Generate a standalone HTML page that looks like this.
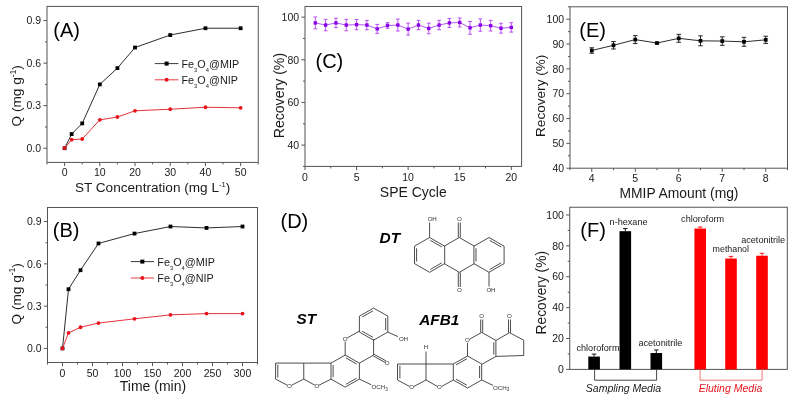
<!DOCTYPE html>
<html><head><meta charset="utf-8"><style>
html,body{margin:0;padding:0;background:#fff;}
svg{display:block;font-family:"Liberation Sans",sans-serif;-webkit-font-smoothing:antialiased;will-change:transform;filter:blur(0.3px);}
</style></head><body>
<svg width="794" height="400" viewBox="0 0 794 400">
<rect width="794" height="400" fill="#fff"/>
<rect x="47" y="6.4" width="211.25" height="156" fill="none" stroke="#555" stroke-width="1.0"/>
<line x1="43.4" y1="148.22" x2="47" y2="148.22" stroke="#555" stroke-width="1.0"/>
<text x="41.1" y="151.92" text-anchor="end" font-size="10.5" fill="#1a1a1a">0.0</text>
<line x1="43.4" y1="105.67" x2="47" y2="105.67" stroke="#555" stroke-width="1.0"/>
<text x="41.1" y="109.37" text-anchor="end" font-size="10.5" fill="#1a1a1a">0.3</text>
<line x1="43.4" y1="63.13" x2="47" y2="63.13" stroke="#555" stroke-width="1.0"/>
<text x="41.1" y="66.83" text-anchor="end" font-size="10.5" fill="#1a1a1a">0.6</text>
<line x1="43.4" y1="20.58" x2="47" y2="20.58" stroke="#555" stroke-width="1.0"/>
<text x="41.1" y="24.28" text-anchor="end" font-size="10.5" fill="#1a1a1a">0.9</text>
<line x1="45" y1="126.95" x2="47" y2="126.95" stroke="#555" stroke-width="1.0"/>
<line x1="45" y1="84.4" x2="47" y2="84.4" stroke="#555" stroke-width="1.0"/>
<line x1="45" y1="41.85" x2="47" y2="41.85" stroke="#555" stroke-width="1.0"/>
<line x1="64.6" y1="162.4" x2="64.6" y2="166" stroke="#555" stroke-width="1.0"/>
<text x="64.6" y="176.1" text-anchor="middle" font-size="10.5" fill="#1a1a1a">0</text>
<line x1="99.81" y1="162.4" x2="99.81" y2="166" stroke="#555" stroke-width="1.0"/>
<text x="99.81" y="176.1" text-anchor="middle" font-size="10.5" fill="#1a1a1a">10</text>
<line x1="135.02" y1="162.4" x2="135.02" y2="166" stroke="#555" stroke-width="1.0"/>
<text x="135.02" y="176.1" text-anchor="middle" font-size="10.5" fill="#1a1a1a">20</text>
<line x1="170.23" y1="162.4" x2="170.23" y2="166" stroke="#555" stroke-width="1.0"/>
<text x="170.23" y="176.1" text-anchor="middle" font-size="10.5" fill="#1a1a1a">30</text>
<line x1="205.44" y1="162.4" x2="205.44" y2="166" stroke="#555" stroke-width="1.0"/>
<text x="205.44" y="176.1" text-anchor="middle" font-size="10.5" fill="#1a1a1a">40</text>
<line x1="240.65" y1="162.4" x2="240.65" y2="166" stroke="#555" stroke-width="1.0"/>
<text x="240.65" y="176.1" text-anchor="middle" font-size="10.5" fill="#1a1a1a">50</text>
<line x1="47" y1="162.4" x2="47" y2="164.4" stroke="#555" stroke-width="1.0"/>
<line x1="82.21" y1="162.4" x2="82.21" y2="164.4" stroke="#555" stroke-width="1.0"/>
<line x1="117.42" y1="162.4" x2="117.42" y2="164.4" stroke="#555" stroke-width="1.0"/>
<line x1="152.62" y1="162.4" x2="152.62" y2="164.4" stroke="#555" stroke-width="1.0"/>
<line x1="187.83" y1="162.4" x2="187.83" y2="164.4" stroke="#555" stroke-width="1.0"/>
<line x1="223.04" y1="162.4" x2="223.04" y2="164.4" stroke="#555" stroke-width="1.0"/>
<line x1="258.25" y1="162.4" x2="258.25" y2="164.4" stroke="#555" stroke-width="1.0"/>
<text transform="translate(21.3,95.8) rotate(-90)" text-anchor="middle" font-size="13.6" fill="#1a1a1a">Q (mg g<tspan font-size="8.5" dy="-5.5">-1</tspan><tspan dy="5.5">)</tspan></text>
<text x="152.6" y="192.3" text-anchor="middle" font-size="13.6" fill="#1a1a1a">ST Concentration (mg L<tspan font-size="7.6" dy="-5.2">-1</tspan><tspan dy="5.2">)</tspan></text>
<text x="53.3" y="36.6" font-size="20" fill="#000">(A)</text>
<polyline points="64.6,148.22 71.65,134.04 82.21,123.4 99.81,84.4 117.42,68.09 135.02,47.53 170.23,35.05 205.44,28.24 240.65,28.24" fill="none" stroke="#222" stroke-width="0.95"/>
<rect x="62.7" y="146.32" width="3.8" height="3.8" fill="#000"/>
<rect x="69.75" y="132.14" width="3.8" height="3.8" fill="#000"/>
<rect x="80.31" y="121.5" width="3.8" height="3.8" fill="#000"/>
<rect x="97.91" y="82.5" width="3.8" height="3.8" fill="#000"/>
<rect x="115.52" y="66.19" width="3.8" height="3.8" fill="#000"/>
<rect x="133.12" y="45.63" width="3.8" height="3.8" fill="#000"/>
<rect x="168.33" y="33.15" width="3.8" height="3.8" fill="#000"/>
<rect x="203.54" y="26.34" width="3.8" height="3.8" fill="#000"/>
<rect x="238.75" y="26.34" width="3.8" height="3.8" fill="#000"/>
<polyline points="64.6,148.22 71.65,139.71 82.21,139 99.81,119.85 117.42,117.02 135.02,110.78 170.23,109.22 205.44,107.23 240.65,107.8" fill="none" stroke="#e2262c" stroke-width="0.95"/>
<circle cx="64.6" cy="148.22" r="1.9" fill="#e8141b"/>
<circle cx="71.65" cy="139.71" r="1.9" fill="#e8141b"/>
<circle cx="82.21" cy="139" r="1.9" fill="#e8141b"/>
<circle cx="99.81" cy="119.85" r="1.9" fill="#e8141b"/>
<circle cx="117.42" cy="117.02" r="1.9" fill="#e8141b"/>
<circle cx="135.02" cy="110.78" r="1.9" fill="#e8141b"/>
<circle cx="170.23" cy="109.22" r="1.9" fill="#e8141b"/>
<circle cx="205.44" cy="107.23" r="1.9" fill="#e8141b"/>
<circle cx="240.65" cy="107.8" r="1.9" fill="#e8141b"/>
<line x1="154.8" y1="63.6" x2="178.4" y2="63.6" stroke="#222" stroke-width="0.9"/>
<rect x="164.6" y="61.6" width="4" height="4" fill="#000"/>
<text x="181.5" y="68" font-size="10.8" fill="#1a1a1a">Fe<tspan font-size="5.8" dy="3.6">3</tspan><tspan dy="-3.6">O</tspan><tspan font-size="5.8" dy="3.6">4</tspan><tspan dy="-3.6">@MIP</tspan></text>
<line x1="154.8" y1="79.8" x2="178.4" y2="79.8" stroke="#e2262c" stroke-width="0.9"/>
<circle cx="166.6" cy="79.8" r="2" fill="#e8141b"/>
<text x="181.5" y="84.2" font-size="10.8" fill="#1a1a1a">Fe<tspan font-size="5.8" dy="3.6">3</tspan><tspan dy="-3.6">O</tspan><tspan font-size="5.8" dy="3.6">4</tspan><tspan dy="-3.6">@NIP</tspan></text>
<rect x="47.5" y="207.5" width="210" height="155" fill="none" stroke="#555" stroke-width="1.0"/>
<line x1="43.9" y1="348.41" x2="47.5" y2="348.41" stroke="#555" stroke-width="1.0"/>
<text x="41.6" y="352.11" text-anchor="end" font-size="10.5" fill="#1a1a1a">0.0</text>
<line x1="43.9" y1="306.14" x2="47.5" y2="306.14" stroke="#555" stroke-width="1.0"/>
<text x="41.6" y="309.84" text-anchor="end" font-size="10.5" fill="#1a1a1a">0.3</text>
<line x1="43.9" y1="263.86" x2="47.5" y2="263.86" stroke="#555" stroke-width="1.0"/>
<text x="41.6" y="267.56" text-anchor="end" font-size="10.5" fill="#1a1a1a">0.6</text>
<line x1="43.9" y1="221.59" x2="47.5" y2="221.59" stroke="#555" stroke-width="1.0"/>
<text x="41.6" y="225.29" text-anchor="end" font-size="10.5" fill="#1a1a1a">0.9</text>
<line x1="45.5" y1="327.27" x2="47.5" y2="327.27" stroke="#555" stroke-width="1.0"/>
<line x1="45.5" y1="285" x2="47.5" y2="285" stroke="#555" stroke-width="1.0"/>
<line x1="45.5" y1="242.73" x2="47.5" y2="242.73" stroke="#555" stroke-width="1.0"/>
<line x1="62.5" y1="362.5" x2="62.5" y2="366.1" stroke="#555" stroke-width="1.0"/>
<text x="62.5" y="376.8" text-anchor="middle" font-size="10.5" fill="#1a1a1a">0</text>
<line x1="92.5" y1="362.5" x2="92.5" y2="366.1" stroke="#555" stroke-width="1.0"/>
<text x="92.5" y="376.8" text-anchor="middle" font-size="10.5" fill="#1a1a1a">50</text>
<line x1="122.5" y1="362.5" x2="122.5" y2="366.1" stroke="#555" stroke-width="1.0"/>
<text x="122.5" y="376.8" text-anchor="middle" font-size="10.5" fill="#1a1a1a">100</text>
<line x1="152.5" y1="362.5" x2="152.5" y2="366.1" stroke="#555" stroke-width="1.0"/>
<text x="152.5" y="376.8" text-anchor="middle" font-size="10.5" fill="#1a1a1a">150</text>
<line x1="182.5" y1="362.5" x2="182.5" y2="366.1" stroke="#555" stroke-width="1.0"/>
<text x="182.5" y="376.8" text-anchor="middle" font-size="10.5" fill="#1a1a1a">200</text>
<line x1="212.5" y1="362.5" x2="212.5" y2="366.1" stroke="#555" stroke-width="1.0"/>
<text x="212.5" y="376.8" text-anchor="middle" font-size="10.5" fill="#1a1a1a">250</text>
<line x1="242.5" y1="362.5" x2="242.5" y2="366.1" stroke="#555" stroke-width="1.0"/>
<text x="242.5" y="376.8" text-anchor="middle" font-size="10.5" fill="#1a1a1a">300</text>
<line x1="47.5" y1="362.5" x2="47.5" y2="364.5" stroke="#555" stroke-width="1.0"/>
<line x1="77.5" y1="362.5" x2="77.5" y2="364.5" stroke="#555" stroke-width="1.0"/>
<line x1="107.5" y1="362.5" x2="107.5" y2="364.5" stroke="#555" stroke-width="1.0"/>
<line x1="137.5" y1="362.5" x2="137.5" y2="364.5" stroke="#555" stroke-width="1.0"/>
<line x1="167.5" y1="362.5" x2="167.5" y2="364.5" stroke="#555" stroke-width="1.0"/>
<line x1="197.5" y1="362.5" x2="197.5" y2="364.5" stroke="#555" stroke-width="1.0"/>
<line x1="227.5" y1="362.5" x2="227.5" y2="364.5" stroke="#555" stroke-width="1.0"/>
<line x1="257.5" y1="362.5" x2="257.5" y2="364.5" stroke="#555" stroke-width="1.0"/>
<text transform="translate(20.6,293.8) rotate(-90)" text-anchor="middle" font-size="13.6" fill="#1a1a1a">Q (mg g<tspan font-size="8.5" dy="-5.5">-1</tspan><tspan dy="5.5">)</tspan></text>
<text x="153" y="391.4" text-anchor="middle" font-size="14" fill="#1a1a1a">Time (min)</text>
<text x="52.8" y="237" font-size="20" fill="#000">(B)</text>
<polyline points="62.5,348.41 68.5,289.23 80.5,270.2 98.5,243.43 134.5,233.57 170.5,226.52 206.5,227.93 242.5,226.52" fill="none" stroke="#222" stroke-width="0.95"/>
<rect x="60.6" y="346.51" width="3.8" height="3.8" fill="#000"/>
<rect x="66.6" y="287.33" width="3.8" height="3.8" fill="#000"/>
<rect x="78.6" y="268.3" width="3.8" height="3.8" fill="#000"/>
<rect x="96.6" y="241.53" width="3.8" height="3.8" fill="#000"/>
<rect x="132.6" y="231.67" width="3.8" height="3.8" fill="#000"/>
<rect x="168.6" y="224.62" width="3.8" height="3.8" fill="#000"/>
<rect x="204.6" y="226.03" width="3.8" height="3.8" fill="#000"/>
<rect x="240.6" y="224.62" width="3.8" height="3.8" fill="#000"/>
<polyline points="62.5,348.41 68.5,332.91 80.5,327.27 98.5,323.05 134.5,318.82 170.5,314.87 206.5,313.6 242.5,313.6" fill="none" stroke="#e2262c" stroke-width="0.95"/>
<circle cx="62.5" cy="348.41" r="1.9" fill="#e8141b"/>
<circle cx="68.5" cy="332.91" r="1.9" fill="#e8141b"/>
<circle cx="80.5" cy="327.27" r="1.9" fill="#e8141b"/>
<circle cx="98.5" cy="323.05" r="1.9" fill="#e8141b"/>
<circle cx="134.5" cy="318.82" r="1.9" fill="#e8141b"/>
<circle cx="170.5" cy="314.87" r="1.9" fill="#e8141b"/>
<circle cx="206.5" cy="313.6" r="1.9" fill="#e8141b"/>
<circle cx="242.5" cy="313.6" r="1.9" fill="#e8141b"/>
<line x1="130.7" y1="261.6" x2="154" y2="261.6" stroke="#222" stroke-width="0.9"/>
<rect x="140.35" y="259.6" width="4" height="4" fill="#000"/>
<text x="157.3" y="266" font-size="10.8" fill="#1a1a1a">Fe<tspan font-size="5.8" dy="3.6">3</tspan><tspan dy="-3.6">O</tspan><tspan font-size="5.8" dy="3.6">4</tspan><tspan dy="-3.6">@MIP</tspan></text>
<line x1="130.7" y1="278" x2="154" y2="278" stroke="#e2262c" stroke-width="0.9"/>
<circle cx="142.35" cy="278" r="2" fill="#e8141b"/>
<text x="157.3" y="282.4" font-size="10.8" fill="#1a1a1a">Fe<tspan font-size="5.8" dy="3.6">3</tspan><tspan dy="-3.6">O</tspan><tspan font-size="5.8" dy="3.6">4</tspan><tspan dy="-3.6">@NIP</tspan></text>
<rect x="305" y="6.5" width="216.6" height="159.9" fill="none" stroke="#555" stroke-width="1.0"/>
<line x1="301.4" y1="145.08" x2="305" y2="145.08" stroke="#555" stroke-width="1.0"/>
<text x="299.1" y="148.78" text-anchor="end" font-size="10.5" fill="#1a1a1a">40</text>
<line x1="301.4" y1="102.44" x2="305" y2="102.44" stroke="#555" stroke-width="1.0"/>
<text x="299.1" y="106.14" text-anchor="end" font-size="10.5" fill="#1a1a1a">60</text>
<line x1="301.4" y1="59.8" x2="305" y2="59.8" stroke="#555" stroke-width="1.0"/>
<text x="299.1" y="63.5" text-anchor="end" font-size="10.5" fill="#1a1a1a">80</text>
<line x1="301.4" y1="17.16" x2="305" y2="17.16" stroke="#555" stroke-width="1.0"/>
<text x="299.1" y="20.86" text-anchor="end" font-size="10.5" fill="#1a1a1a">100</text>
<line x1="303" y1="166.4" x2="305" y2="166.4" stroke="#555" stroke-width="1.0"/>
<line x1="303" y1="123.76" x2="305" y2="123.76" stroke="#555" stroke-width="1.0"/>
<line x1="303" y1="81.12" x2="305" y2="81.12" stroke="#555" stroke-width="1.0"/>
<line x1="303" y1="38.48" x2="305" y2="38.48" stroke="#555" stroke-width="1.0"/>
<line x1="305" y1="166.4" x2="305" y2="170" stroke="#555" stroke-width="1.0"/>
<text x="305" y="180.7" text-anchor="middle" font-size="10.5" fill="#1a1a1a">0</text>
<line x1="356.57" y1="166.4" x2="356.57" y2="170" stroke="#555" stroke-width="1.0"/>
<text x="356.57" y="180.7" text-anchor="middle" font-size="10.5" fill="#1a1a1a">5</text>
<line x1="408.14" y1="166.4" x2="408.14" y2="170" stroke="#555" stroke-width="1.0"/>
<text x="408.14" y="180.7" text-anchor="middle" font-size="10.5" fill="#1a1a1a">10</text>
<line x1="459.71" y1="166.4" x2="459.71" y2="170" stroke="#555" stroke-width="1.0"/>
<text x="459.71" y="180.7" text-anchor="middle" font-size="10.5" fill="#1a1a1a">15</text>
<line x1="511.29" y1="166.4" x2="511.29" y2="170" stroke="#555" stroke-width="1.0"/>
<text x="511.29" y="180.7" text-anchor="middle" font-size="10.5" fill="#1a1a1a">20</text>
<line x1="330.79" y1="166.4" x2="330.79" y2="168.4" stroke="#555" stroke-width="1.0"/>
<line x1="382.36" y1="166.4" x2="382.36" y2="168.4" stroke="#555" stroke-width="1.0"/>
<line x1="433.93" y1="166.4" x2="433.93" y2="168.4" stroke="#555" stroke-width="1.0"/>
<line x1="485.5" y1="166.4" x2="485.5" y2="168.4" stroke="#555" stroke-width="1.0"/>
<text transform="translate(284,95.6) rotate(-90)" text-anchor="middle" font-size="14.1" fill="#1a1a1a">Recovery (%)</text>
<text x="413.3" y="196.9" text-anchor="middle" font-size="14" fill="#1a1a1a">SPE Cycle</text>
<text x="315.5" y="67.7" font-size="20" fill="#000">(C)</text>
<path d="M315.31,16.95V28.89M313.41,16.95H317.21M313.41,28.89H317.21" stroke="#b040f0" stroke-width="0.9" fill="none"/>
<path d="M325.63,19.29V30.8M323.73,19.29H327.53M323.73,30.8H327.53" stroke="#b040f0" stroke-width="0.9" fill="none"/>
<path d="M335.94,18.23V27.61M334.04,18.23H337.84M334.04,27.61H337.84" stroke="#b040f0" stroke-width="0.9" fill="none"/>
<path d="M346.26,19.29V30.8M344.36,19.29H348.16M344.36,30.8H348.16" stroke="#b040f0" stroke-width="0.9" fill="none"/>
<path d="M356.57,19.51V29.74M354.67,19.51H358.47M354.67,29.74H358.47" stroke="#b040f0" stroke-width="0.9" fill="none"/>
<path d="M366.89,20.36V29.74M364.99,20.36H368.79M364.99,29.74H368.79" stroke="#b040f0" stroke-width="0.9" fill="none"/>
<path d="M377.2,24.41V33.36M375.3,24.41H379.1M375.3,33.36H379.1" stroke="#b040f0" stroke-width="0.9" fill="none"/>
<path d="M387.51,22.7V28.25M385.61,22.7H389.41M385.61,28.25H389.41" stroke="#b040f0" stroke-width="0.9" fill="none"/>
<path d="M397.83,19.08V31.02M395.93,19.08H399.73M395.93,31.02H399.73" stroke="#b040f0" stroke-width="0.9" fill="none"/>
<path d="M408.14,23.13V35.07M406.24,23.13H410.04M406.24,35.07H410.04" stroke="#b040f0" stroke-width="0.9" fill="none"/>
<path d="M418.46,20.36V29.74M416.56,20.36H420.36M416.56,29.74H420.36" stroke="#b040f0" stroke-width="0.9" fill="none"/>
<path d="M428.77,23.13V33.79M426.87,23.13H430.67M426.87,33.79H430.67" stroke="#b040f0" stroke-width="0.9" fill="none"/>
<path d="M439.09,20.36V29.74M437.19,20.36H440.99M437.19,29.74H440.99" stroke="#b040f0" stroke-width="0.9" fill="none"/>
<path d="M449.4,18.44V27.39M447.5,18.44H451.3M447.5,27.39H451.3" stroke="#b040f0" stroke-width="0.9" fill="none"/>
<path d="M459.71,18.01V26.97M457.81,18.01H461.61M457.81,26.97H461.61" stroke="#b040f0" stroke-width="0.9" fill="none"/>
<path d="M470.03,21.42V34.22M468.13,21.42H471.93M468.13,34.22H471.93" stroke="#b040f0" stroke-width="0.9" fill="none"/>
<path d="M480.34,18.87V31.23M478.44,18.87H482.24M478.44,31.23H482.24" stroke="#b040f0" stroke-width="0.9" fill="none"/>
<path d="M490.66,20.36V31.02M488.76,20.36H492.56M488.76,31.02H492.56" stroke="#b040f0" stroke-width="0.9" fill="none"/>
<path d="M500.97,23.34V33.15M499.07,23.34H502.87M499.07,33.15H502.87" stroke="#b040f0" stroke-width="0.9" fill="none"/>
<path d="M511.29,22.7V32.08M509.39,22.7H513.19M509.39,32.08H513.19" stroke="#b040f0" stroke-width="0.9" fill="none"/>
<polyline points="315.31,22.92 325.63,25.05 335.94,22.92 346.26,25.05 356.57,24.62 366.89,25.05 377.2,28.89 387.51,25.47 397.83,25.05 408.14,29.1 418.46,25.05 428.77,28.46 439.09,25.05 449.4,22.92 459.71,22.49 470.03,27.82 480.34,25.05 490.66,25.69 500.97,28.25 511.29,27.39" fill="none" stroke="#b050f0" stroke-width="0.95"/>
<rect x="313.61" y="21.22" width="3.4" height="3.4" fill="#8a00e6"/>
<rect x="323.93" y="23.35" width="3.4" height="3.4" fill="#8a00e6"/>
<rect x="334.24" y="21.22" width="3.4" height="3.4" fill="#8a00e6"/>
<rect x="344.56" y="23.35" width="3.4" height="3.4" fill="#8a00e6"/>
<rect x="354.87" y="22.92" width="3.4" height="3.4" fill="#8a00e6"/>
<rect x="365.19" y="23.35" width="3.4" height="3.4" fill="#8a00e6"/>
<rect x="375.5" y="27.19" width="3.4" height="3.4" fill="#8a00e6"/>
<rect x="385.81" y="23.77" width="3.4" height="3.4" fill="#8a00e6"/>
<rect x="396.13" y="23.35" width="3.4" height="3.4" fill="#8a00e6"/>
<rect x="406.44" y="27.4" width="3.4" height="3.4" fill="#8a00e6"/>
<rect x="416.76" y="23.35" width="3.4" height="3.4" fill="#8a00e6"/>
<rect x="427.07" y="26.76" width="3.4" height="3.4" fill="#8a00e6"/>
<rect x="437.39" y="23.35" width="3.4" height="3.4" fill="#8a00e6"/>
<rect x="447.7" y="21.22" width="3.4" height="3.4" fill="#8a00e6"/>
<rect x="458.01" y="20.79" width="3.4" height="3.4" fill="#8a00e6"/>
<rect x="468.33" y="26.12" width="3.4" height="3.4" fill="#8a00e6"/>
<rect x="478.64" y="23.35" width="3.4" height="3.4" fill="#8a00e6"/>
<rect x="488.96" y="23.99" width="3.4" height="3.4" fill="#8a00e6"/>
<rect x="499.27" y="26.55" width="3.4" height="3.4" fill="#8a00e6"/>
<rect x="509.59" y="25.69" width="3.4" height="3.4" fill="#8a00e6"/>
<rect x="570" y="6.8" width="217.5" height="161.4" fill="none" stroke="#555" stroke-width="1.0"/>
<line x1="566.4" y1="168.2" x2="570" y2="168.2" stroke="#555" stroke-width="1.0"/>
<text x="564.1" y="171.9" text-anchor="end" font-size="10.5" fill="#1a1a1a">40</text>
<line x1="566.4" y1="143.37" x2="570" y2="143.37" stroke="#555" stroke-width="1.0"/>
<text x="564.1" y="147.07" text-anchor="end" font-size="10.5" fill="#1a1a1a">50</text>
<line x1="566.4" y1="118.54" x2="570" y2="118.54" stroke="#555" stroke-width="1.0"/>
<text x="564.1" y="122.24" text-anchor="end" font-size="10.5" fill="#1a1a1a">60</text>
<line x1="566.4" y1="93.71" x2="570" y2="93.71" stroke="#555" stroke-width="1.0"/>
<text x="564.1" y="97.41" text-anchor="end" font-size="10.5" fill="#1a1a1a">70</text>
<line x1="566.4" y1="68.88" x2="570" y2="68.88" stroke="#555" stroke-width="1.0"/>
<text x="564.1" y="72.58" text-anchor="end" font-size="10.5" fill="#1a1a1a">80</text>
<line x1="566.4" y1="44.05" x2="570" y2="44.05" stroke="#555" stroke-width="1.0"/>
<text x="564.1" y="47.75" text-anchor="end" font-size="10.5" fill="#1a1a1a">90</text>
<line x1="566.4" y1="19.22" x2="570" y2="19.22" stroke="#555" stroke-width="1.0"/>
<text x="564.1" y="22.92" text-anchor="end" font-size="10.5" fill="#1a1a1a">100</text>
<line x1="568" y1="155.78" x2="570" y2="155.78" stroke="#555" stroke-width="1.0"/>
<line x1="568" y1="130.95" x2="570" y2="130.95" stroke="#555" stroke-width="1.0"/>
<line x1="568" y1="106.12" x2="570" y2="106.12" stroke="#555" stroke-width="1.0"/>
<line x1="568" y1="81.29" x2="570" y2="81.29" stroke="#555" stroke-width="1.0"/>
<line x1="568" y1="56.46" x2="570" y2="56.46" stroke="#555" stroke-width="1.0"/>
<line x1="568" y1="31.63" x2="570" y2="31.63" stroke="#555" stroke-width="1.0"/>
<line x1="568" y1="6.8" x2="570" y2="6.8" stroke="#555" stroke-width="1.0"/>
<line x1="591.75" y1="168.2" x2="591.75" y2="171.8" stroke="#555" stroke-width="1.0"/>
<text x="591.75" y="181.6" text-anchor="middle" font-size="10.5" fill="#1a1a1a">4</text>
<line x1="635.25" y1="168.2" x2="635.25" y2="171.8" stroke="#555" stroke-width="1.0"/>
<text x="635.25" y="181.6" text-anchor="middle" font-size="10.5" fill="#1a1a1a">5</text>
<line x1="678.75" y1="168.2" x2="678.75" y2="171.8" stroke="#555" stroke-width="1.0"/>
<text x="678.75" y="181.6" text-anchor="middle" font-size="10.5" fill="#1a1a1a">6</text>
<line x1="722.25" y1="168.2" x2="722.25" y2="171.8" stroke="#555" stroke-width="1.0"/>
<text x="722.25" y="181.6" text-anchor="middle" font-size="10.5" fill="#1a1a1a">7</text>
<line x1="765.75" y1="168.2" x2="765.75" y2="171.8" stroke="#555" stroke-width="1.0"/>
<text x="765.75" y="181.6" text-anchor="middle" font-size="10.5" fill="#1a1a1a">8</text>
<line x1="570" y1="168.2" x2="570" y2="170.2" stroke="#555" stroke-width="1.0"/>
<line x1="613.5" y1="168.2" x2="613.5" y2="170.2" stroke="#555" stroke-width="1.0"/>
<line x1="657" y1="168.2" x2="657" y2="170.2" stroke="#555" stroke-width="1.0"/>
<line x1="700.5" y1="168.2" x2="700.5" y2="170.2" stroke="#555" stroke-width="1.0"/>
<line x1="744" y1="168.2" x2="744" y2="170.2" stroke="#555" stroke-width="1.0"/>
<line x1="787.5" y1="168.2" x2="787.5" y2="170.2" stroke="#555" stroke-width="1.0"/>
<text transform="translate(545,95.8) rotate(-90)" text-anchor="middle" font-size="13.6" fill="#1a1a1a">Recovery (%)</text>
<text x="679" y="197.5" text-anchor="middle" font-size="13.85" fill="#1a1a1a">MMIP Amount (mg)</text>
<text x="579.3" y="36.8" font-size="20" fill="#000">(E)</text>
<path d="M591.75,47.77V53.23M589.45,47.77H594.05M589.45,53.23H594.05" stroke="#111" stroke-width="0.9" fill="none"/>
<path d="M613.5,41.56V49.01M611.2,41.56H615.8M611.2,49.01H615.8" stroke="#111" stroke-width="0.9" fill="none"/>
<path d="M635.25,35.6V43.55M632.95,35.6H637.55M632.95,43.55H637.55" stroke="#111" stroke-width="0.9" fill="none"/>
<path d="M657,42.31V43.8M654.7,42.31H659.3M654.7,43.8H659.3" stroke="#111" stroke-width="0.9" fill="none"/>
<path d="M678.75,34.36V42.31M676.45,34.36H681.05M676.45,42.31H681.05" stroke="#111" stroke-width="0.9" fill="none"/>
<path d="M700.5,35.85V45.78M698.2,35.85H702.8M698.2,45.78H702.8" stroke="#111" stroke-width="0.9" fill="none"/>
<path d="M722.25,36.85V45.29M719.95,36.85H724.55M719.95,45.29H724.55" stroke="#111" stroke-width="0.9" fill="none"/>
<path d="M744,37.34V46.28M741.7,37.34H746.3M741.7,46.28H746.3" stroke="#111" stroke-width="0.9" fill="none"/>
<path d="M765.75,36.22V43.43M763.45,36.22H768.05M763.45,43.43H768.05" stroke="#111" stroke-width="0.9" fill="none"/>
<polyline points="591.75,50.5 613.5,45.29 635.25,39.58 657,43.05 678.75,38.34 700.5,40.82 722.25,41.07 744,41.81 765.75,39.82" fill="none" stroke="#222" stroke-width="0.95"/>
<rect x="589.9" y="48.65" width="3.7" height="3.7" fill="#000"/>
<rect x="611.65" y="43.44" width="3.7" height="3.7" fill="#000"/>
<rect x="633.4" y="37.73" width="3.7" height="3.7" fill="#000"/>
<rect x="655.15" y="41.2" width="3.7" height="3.7" fill="#000"/>
<rect x="676.9" y="36.49" width="3.7" height="3.7" fill="#000"/>
<rect x="698.65" y="38.97" width="3.7" height="3.7" fill="#000"/>
<rect x="720.4" y="39.22" width="3.7" height="3.7" fill="#000"/>
<rect x="742.15" y="39.96" width="3.7" height="3.7" fill="#000"/>
<rect x="763.9" y="37.97" width="3.7" height="3.7" fill="#000"/>
<rect x="569.75" y="207.25" width="217.55" height="162.15" fill="none" stroke="#555" stroke-width="1.0"/>
<line x1="566.15" y1="369.4" x2="569.75" y2="369.4" stroke="#555" stroke-width="1.0"/>
<text x="563.85" y="373.1" text-anchor="end" font-size="10.5" fill="#1a1a1a">0</text>
<line x1="566.15" y1="338.51" x2="569.75" y2="338.51" stroke="#555" stroke-width="1.0"/>
<text x="563.85" y="342.21" text-anchor="end" font-size="10.5" fill="#1a1a1a">20</text>
<line x1="566.15" y1="307.63" x2="569.75" y2="307.63" stroke="#555" stroke-width="1.0"/>
<text x="563.85" y="311.33" text-anchor="end" font-size="10.5" fill="#1a1a1a">40</text>
<line x1="566.15" y1="276.74" x2="569.75" y2="276.74" stroke="#555" stroke-width="1.0"/>
<text x="563.85" y="280.44" text-anchor="end" font-size="10.5" fill="#1a1a1a">60</text>
<line x1="566.15" y1="245.86" x2="569.75" y2="245.86" stroke="#555" stroke-width="1.0"/>
<text x="563.85" y="249.56" text-anchor="end" font-size="10.5" fill="#1a1a1a">80</text>
<line x1="566.15" y1="214.97" x2="569.75" y2="214.97" stroke="#555" stroke-width="1.0"/>
<text x="563.85" y="218.67" text-anchor="end" font-size="10.5" fill="#1a1a1a">100</text>
<line x1="567.75" y1="353.96" x2="569.75" y2="353.96" stroke="#555" stroke-width="1.0"/>
<line x1="567.75" y1="323.07" x2="569.75" y2="323.07" stroke="#555" stroke-width="1.0"/>
<line x1="567.75" y1="292.19" x2="569.75" y2="292.19" stroke="#555" stroke-width="1.0"/>
<line x1="567.75" y1="261.3" x2="569.75" y2="261.3" stroke="#555" stroke-width="1.0"/>
<line x1="567.75" y1="230.41" x2="569.75" y2="230.41" stroke="#555" stroke-width="1.0"/>
<text transform="translate(545.8,292.7) rotate(-90)" text-anchor="middle" font-size="13.8" fill="#1a1a1a">Recovery (%)</text>
<text x="580.3" y="236.5" font-size="20" fill="#000">(F)</text>
<rect x="588.3" y="356.58" width="11.6" height="12.82" fill="#000"/>
<path d="M594.1,356.58V354.11M591.8,354.11H596.4" stroke="#000" stroke-width="0.9" fill="none"/>
<rect x="619.5" y="231.19" width="11.6" height="138.21" fill="#000"/>
<path d="M625.3,231.19V228.56M623,228.56H627.6" stroke="#000" stroke-width="0.9" fill="none"/>
<rect x="650.5" y="353.03" width="11.6" height="16.37" fill="#000"/>
<path d="M656.3,353.03V349.94M654,349.94H658.6" stroke="#000" stroke-width="0.9" fill="none"/>
<rect x="694.4" y="228.56" width="11.6" height="140.84" fill="#ff0000"/>
<path d="M700.2,228.56V227.02M697.9,227.02H702.5" stroke="#ff0000" stroke-width="0.9" fill="none"/>
<rect x="725.2" y="258.52" width="11.6" height="110.88" fill="#ff0000"/>
<path d="M731,258.52V256.36M728.7,256.36H733.3" stroke="#ff0000" stroke-width="0.9" fill="none"/>
<rect x="756.2" y="255.74" width="11.6" height="113.66" fill="#ff0000"/>
<path d="M762,255.74V253.27M759.7,253.27H764.3" stroke="#ff0000" stroke-width="0.9" fill="none"/>
<text x="576.5" y="351.3" font-size="9.1" fill="#1a1a1a">chloroform</text>
<text x="609.6" y="225" font-size="9.1" fill="#1a1a1a">n-hexane</text>
<text x="638.4" y="346" font-size="9.1" fill="#1a1a1a">acetonitrile</text>
<text x="681.1" y="222.4" font-size="9.1" fill="#1a1a1a">chloroform</text>
<text x="712.6" y="251.8" font-size="8.85" fill="#1a1a1a">methanol</text>
<text x="741.2" y="243.3" font-size="9.1" fill="#1a1a1a">acetonitrile</text>
<path d="M594.6,369.4V380.2H656.6V369.4" stroke="#333" stroke-width="0.9" fill="none"/>
<path d="M700.1,369.4V380.2H762.1V369.4" stroke="#e66" stroke-width="0.9" fill="none"/>
<text x="585.8" y="391.8" font-size="10.5" font-style="italic" fill="#1a1a1a">Sampling Media</text>
<text x="698.7" y="391.8" font-size="10.5" font-style="italic" fill="#e8141b">Eluting Media</text>
<text x="280.5" y="227.5" font-size="20" fill="#000">(D)</text>
<text x="379.6" y="242.7" font-size="15.4" font-weight="bold" font-style="italic" fill="#000">DT</text>
<text x="296.6" y="323.8" font-size="15.3" font-weight="bold" font-style="italic" fill="#000">ST</text>
<text x="419.3" y="324.9" font-size="15.3" font-weight="bold" font-style="italic" fill="#000">AFB1</text>
<line x1="429.6" y1="237.5" x2="444.7" y2="246.2" stroke="#383838" stroke-width="0.9"/>
<line x1="430.36" y1="240.36" x2="441.84" y2="246.98" stroke="#383838" stroke-width="0.9"/>
<line x1="444.7" y1="246.2" x2="444.7" y2="263.6" stroke="#383838" stroke-width="0.9"/>
<line x1="444.7" y1="263.6" x2="429.6" y2="272.3" stroke="#383838" stroke-width="0.9"/>
<line x1="441.84" y1="262.82" x2="430.36" y2="269.44" stroke="#383838" stroke-width="0.9"/>
<line x1="429.6" y1="272.3" x2="414.5" y2="263.6" stroke="#383838" stroke-width="0.9"/>
<line x1="414.5" y1="263.6" x2="414.5" y2="246.2" stroke="#383838" stroke-width="0.9"/>
<line x1="416.6" y1="261.51" x2="416.6" y2="248.29" stroke="#383838" stroke-width="0.9"/>
<line x1="414.5" y1="246.2" x2="429.6" y2="237.5" stroke="#383838" stroke-width="0.9"/>
<line x1="444.2" y1="246.2" x2="459.3" y2="237.5" stroke="#383838" stroke-width="0.9"/>
<line x1="459.3" y1="237.5" x2="474.4" y2="246.2" stroke="#383838" stroke-width="0.9"/>
<line x1="474.4" y1="263.6" x2="459.3" y2="272.3" stroke="#383838" stroke-width="0.9"/>
<line x1="459.3" y1="272.3" x2="444.2" y2="263.6" stroke="#383838" stroke-width="0.9"/>
<line x1="473.9" y1="246.2" x2="489" y2="237.5" stroke="#383838" stroke-width="0.9"/>
<line x1="489" y1="237.5" x2="504.1" y2="246.2" stroke="#383838" stroke-width="0.9"/>
<line x1="489.76" y1="240.36" x2="501.24" y2="246.98" stroke="#383838" stroke-width="0.9"/>
<line x1="504.1" y1="246.2" x2="504.1" y2="263.6" stroke="#383838" stroke-width="0.9"/>
<line x1="504.1" y1="263.6" x2="489" y2="272.3" stroke="#383838" stroke-width="0.9"/>
<line x1="501.24" y1="262.82" x2="489.76" y2="269.44" stroke="#383838" stroke-width="0.9"/>
<line x1="489" y1="272.3" x2="473.9" y2="263.6" stroke="#383838" stroke-width="0.9"/>
<line x1="473.9" y1="263.6" x2="473.9" y2="246.2" stroke="#383838" stroke-width="0.9"/>
<line x1="476" y1="261.51" x2="476" y2="248.29" stroke="#383838" stroke-width="0.9"/>
<line x1="429.6" y1="237.5" x2="429.6" y2="222.5" stroke="#383838" stroke-width="0.9"/>
<text x="432" y="221.23" text-anchor="middle" font-size="6.2" fill="#333" letter-spacing="-0.3">OH</text>
<line x1="460.3" y1="237.5" x2="460.3" y2="222.5" stroke="#383838" stroke-width="0.9"/>
<line x1="458.3" y1="237.5" x2="458.3" y2="222.5" stroke="#383838" stroke-width="0.9"/>
<text x="459.3" y="221.23" text-anchor="middle" font-size="6.2" fill="#333">O</text>
<line x1="458.3" y1="272.3" x2="458.3" y2="287" stroke="#383838" stroke-width="0.9"/>
<line x1="460.3" y1="272.3" x2="460.3" y2="287" stroke="#383838" stroke-width="0.9"/>
<text x="459.3" y="292.03" text-anchor="middle" font-size="6.2" fill="#333">O</text>
<line x1="489" y1="272.3" x2="489" y2="286.6" stroke="#383838" stroke-width="0.9"/>
<text x="490.9" y="292.13" text-anchor="middle" font-size="6.2" fill="#333" letter-spacing="-0.3">OH</text>
<line x1="359.4" y1="316.1" x2="373.6" y2="308.1" stroke="#383838" stroke-width="0.9"/>
<line x1="362.13" y1="316.97" x2="372.93" y2="310.89" stroke="#383838" stroke-width="0.9"/>
<line x1="373.6" y1="308.1" x2="387.8" y2="316.1" stroke="#383838" stroke-width="0.9"/>
<line x1="387.8" y1="316.1" x2="387.8" y2="332.1" stroke="#383838" stroke-width="0.9"/>
<line x1="385.7" y1="318.02" x2="385.7" y2="330.18" stroke="#383838" stroke-width="0.9"/>
<line x1="387.8" y1="332.1" x2="373.6" y2="340.1" stroke="#383838" stroke-width="0.9"/>
<line x1="373.6" y1="340.1" x2="359.4" y2="332.1" stroke="#383838" stroke-width="0.9"/>
<line x1="372.93" y1="337.31" x2="362.13" y2="331.23" stroke="#383838" stroke-width="0.9"/>
<line x1="359.4" y1="332.1" x2="359.4" y2="316.1" stroke="#383838" stroke-width="0.9"/>
<line x1="373.6" y1="339.1" x2="373.6" y2="355.1" stroke="#383838" stroke-width="0.9"/>
<line x1="373.6" y1="355.1" x2="359.4" y2="363.1" stroke="#383838" stroke-width="0.9"/>
<line x1="345.2" y1="355.1" x2="345.2" y2="341.5" stroke="#383838" stroke-width="0.9"/>
<line x1="347.29" y1="337.92" x2="359.4" y2="331.1" stroke="#383838" stroke-width="0.9"/>
<line x1="345.2" y1="355.1" x2="359.4" y2="363.1" stroke="#383838" stroke-width="0.9"/>
<line x1="345.87" y1="357.89" x2="356.67" y2="363.97" stroke="#383838" stroke-width="0.9"/>
<line x1="359.4" y1="363.1" x2="359.4" y2="379.1" stroke="#383838" stroke-width="0.9"/>
<line x1="359.4" y1="379.1" x2="345.2" y2="387.1" stroke="#383838" stroke-width="0.9"/>
<line x1="356.67" y1="378.23" x2="345.87" y2="384.31" stroke="#383838" stroke-width="0.9"/>
<line x1="345.2" y1="387.1" x2="331" y2="379.1" stroke="#383838" stroke-width="0.9"/>
<line x1="331" y1="379.1" x2="331" y2="363.1" stroke="#383838" stroke-width="0.9"/>
<line x1="333.1" y1="377.18" x2="333.1" y2="365.02" stroke="#383838" stroke-width="0.9"/>
<line x1="331" y1="363.1" x2="345.2" y2="355.1" stroke="#383838" stroke-width="0.9"/>
<text x="345.2" y="340.73" text-anchor="middle" font-size="6.2" fill="#333">O</text>
<line x1="373.17" y1="355.89" x2="385.17" y2="362.49" stroke="#383838" stroke-width="0.9"/>
<line x1="374.03" y1="354.31" x2="386.03" y2="360.91" stroke="#383838" stroke-width="0.9"/>
<text x="387.1" y="364.63" text-anchor="middle" font-size="6.2" fill="#333">O</text>
<line x1="387.8" y1="332.1" x2="398" y2="336.6" stroke="#383838" stroke-width="0.9"/>
<text x="399" y="340.63" text-anchor="start" font-size="6.2" fill="#333" letter-spacing="-0.3">OH</text>
<line x1="359.4" y1="379.1" x2="371.3" y2="384.8" stroke="#383838" stroke-width="0.9"/>
<text x="371.4" y="389.3" font-size="6.2" fill="#333">OCH<tspan font-size="4.6" dy="1.2">3</tspan></text>
<line x1="331" y1="363.1" x2="275.6" y2="363.1" stroke="#383838" stroke-width="0.9"/>
<line x1="303.75" y1="363.1" x2="303.75" y2="379.1" stroke="#383838" stroke-width="0.9"/>
<line x1="275.6" y1="363.1" x2="275.6" y2="379.1" stroke="#383838" stroke-width="0.9"/>
<line x1="277.8" y1="364.7" x2="277.8" y2="377.5" stroke="#383838" stroke-width="0.9"/>
<line x1="275.6" y1="379.1" x2="287.27" y2="385.19" stroke="#383838" stroke-width="0.9"/>
<line x1="303.75" y1="379.1" x2="291.55" y2="385.22" stroke="#383838" stroke-width="0.9"/>
<line x1="303.75" y1="379.1" x2="314.79" y2="385.15" stroke="#383838" stroke-width="0.9"/>
<line x1="331" y1="379.1" x2="319.04" y2="385.21" stroke="#383838" stroke-width="0.9"/>
<text x="289.4" y="387.93" text-anchor="middle" font-size="6.2" fill="#333">O</text>
<text x="316.9" y="387.93" text-anchor="middle" font-size="6.2" fill="#333">O</text>
<line x1="469.59" y1="339.22" x2="481.7" y2="332.4" stroke="#383838" stroke-width="0.9"/>
<line x1="481.7" y1="332.4" x2="495.9" y2="340.4" stroke="#383838" stroke-width="0.9"/>
<line x1="495.9" y1="340.4" x2="495.9" y2="356.4" stroke="#383838" stroke-width="0.9"/>
<line x1="493.8" y1="342.32" x2="493.8" y2="354.48" stroke="#383838" stroke-width="0.9"/>
<line x1="495.9" y1="356.4" x2="481.7" y2="364.4" stroke="#383838" stroke-width="0.9"/>
<line x1="467.5" y1="356.4" x2="467.5" y2="342.8" stroke="#383838" stroke-width="0.9"/>
<text x="467.5" y="342.03" text-anchor="middle" font-size="6.2" fill="#333">O</text>
<line x1="482.7" y1="332.4" x2="482.7" y2="319.5" stroke="#383838" stroke-width="0.9"/>
<line x1="480.7" y1="332.4" x2="480.7" y2="319.5" stroke="#383838" stroke-width="0.9"/>
<text x="481.7" y="317.93" text-anchor="middle" font-size="6.2" fill="#333">O</text>
<line x1="495.9" y1="340.4" x2="509.5" y2="332.7" stroke="#383838" stroke-width="0.9"/>
<line x1="509.5" y1="332.7" x2="523.7" y2="340.2" stroke="#383838" stroke-width="0.9"/>
<line x1="523.7" y1="340.2" x2="523.7" y2="355.5" stroke="#383838" stroke-width="0.9"/>
<line x1="523.7" y1="355.5" x2="495.9" y2="356.4" stroke="#383838" stroke-width="0.9"/>
<line x1="510.5" y1="332.7" x2="510.5" y2="319.5" stroke="#383838" stroke-width="0.9"/>
<line x1="508.5" y1="332.7" x2="508.5" y2="319.5" stroke="#383838" stroke-width="0.9"/>
<text x="509.5" y="317.93" text-anchor="middle" font-size="6.2" fill="#333">O</text>
<line x1="453.3" y1="364" x2="467.5" y2="356" stroke="#383838" stroke-width="0.9"/>
<line x1="456.03" y1="364.87" x2="466.83" y2="358.79" stroke="#383838" stroke-width="0.9"/>
<line x1="467.5" y1="356" x2="481.7" y2="364" stroke="#383838" stroke-width="0.9"/>
<line x1="481.7" y1="364" x2="481.7" y2="380" stroke="#383838" stroke-width="0.9"/>
<line x1="479.6" y1="365.92" x2="479.6" y2="378.08" stroke="#383838" stroke-width="0.9"/>
<line x1="481.7" y1="380" x2="467.5" y2="388" stroke="#383838" stroke-width="0.9"/>
<line x1="467.5" y1="388" x2="453.3" y2="380" stroke="#383838" stroke-width="0.9"/>
<line x1="466.83" y1="385.21" x2="456.03" y2="379.13" stroke="#383838" stroke-width="0.9"/>
<line x1="453.3" y1="380" x2="453.3" y2="364" stroke="#383838" stroke-width="0.9"/>
<line x1="481.7" y1="380" x2="493" y2="385.4" stroke="#383838" stroke-width="0.9"/>
<text x="493.0" y="390.0" font-size="6.2" fill="#333">OCH<tspan font-size="4.6" dy="1.2">3</tspan></text>
<line x1="453.3" y1="364" x2="397.5" y2="364" stroke="#383838" stroke-width="0.9"/>
<line x1="426" y1="364" x2="426" y2="380" stroke="#383838" stroke-width="0.9"/>
<line x1="426" y1="364" x2="426" y2="351.6" stroke="#383838" stroke-width="0.9"/>
<text x="426" y="349.33" text-anchor="middle" font-size="6.2" fill="#333">H</text>
<line x1="397.5" y1="364" x2="397.5" y2="380" stroke="#383838" stroke-width="0.9"/>
<line x1="399.9" y1="365.6" x2="399.9" y2="378.4" stroke="#383838" stroke-width="0.9"/>
<line x1="397.5" y1="380" x2="409.58" y2="386.47" stroke="#383838" stroke-width="0.9"/>
<line x1="426" y1="380" x2="413.82" y2="386.47" stroke="#383838" stroke-width="0.9"/>
<line x1="426" y1="380" x2="437.41" y2="386.42" stroke="#383838" stroke-width="0.9"/>
<line x1="453.3" y1="380" x2="441.6" y2="386.44" stroke="#383838" stroke-width="0.9"/>
<text x="411.7" y="389.23" text-anchor="middle" font-size="6.2" fill="#333">O</text>
<text x="439.5" y="389.23" text-anchor="middle" font-size="6.2" fill="#333">O</text>
</svg>
</body></html>
